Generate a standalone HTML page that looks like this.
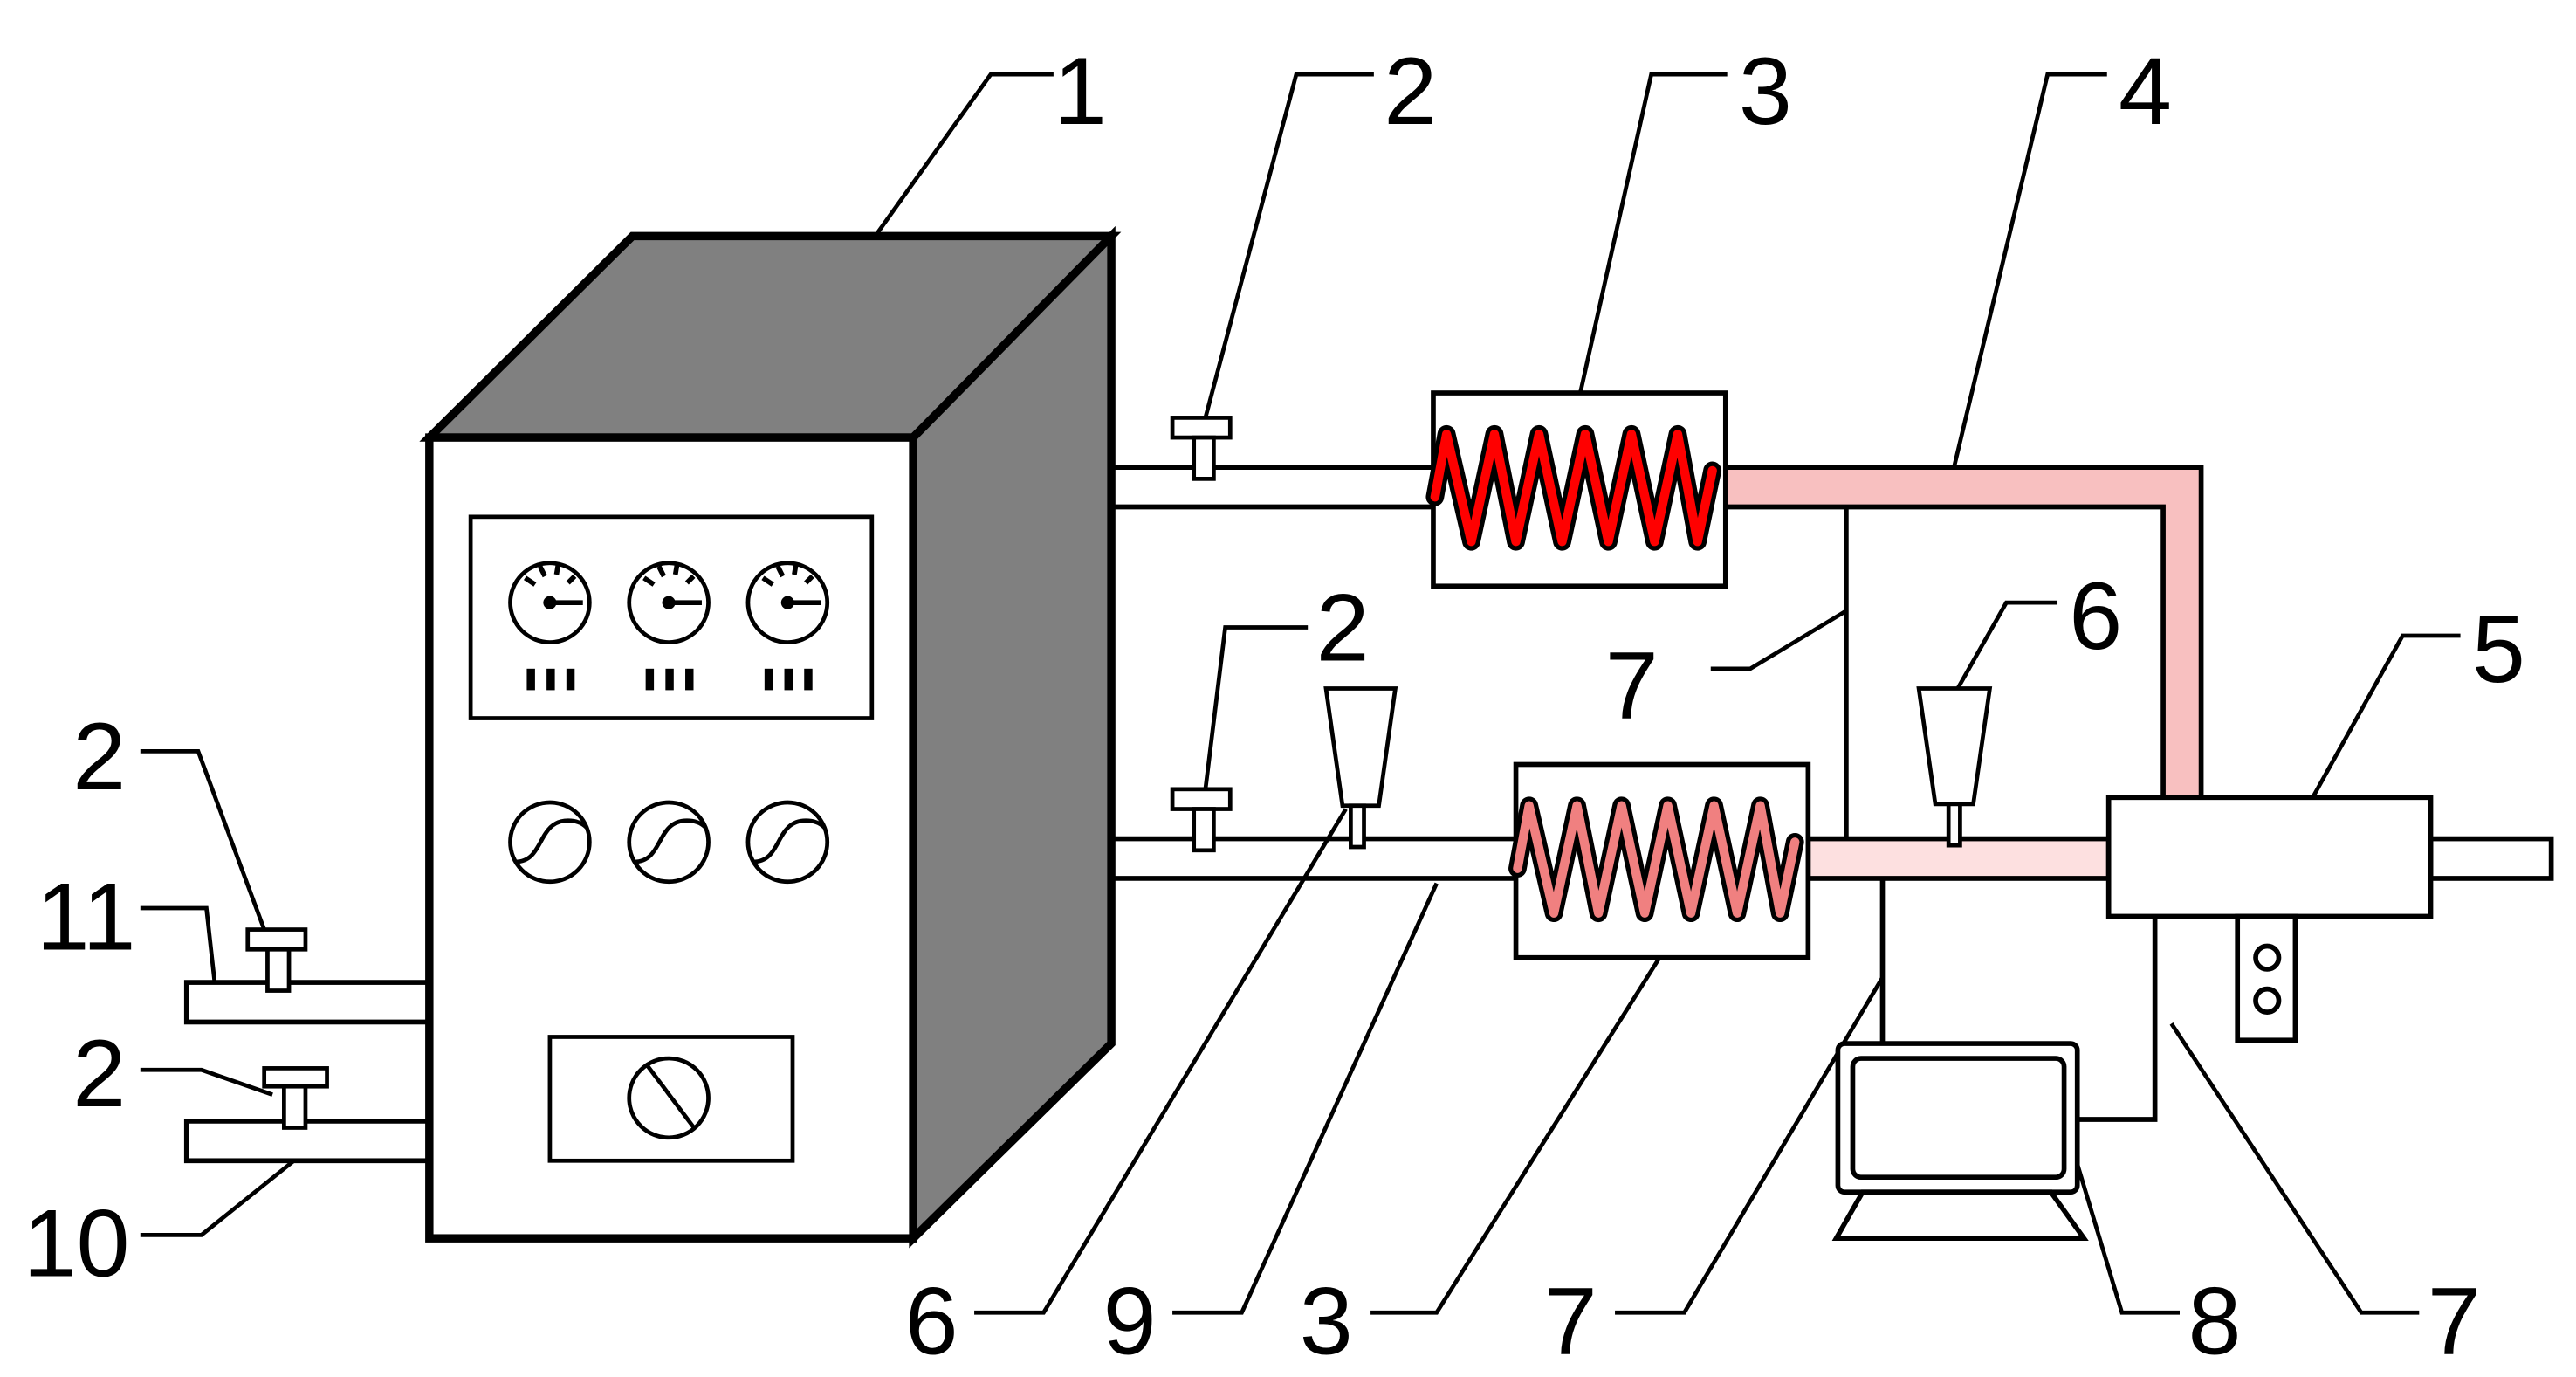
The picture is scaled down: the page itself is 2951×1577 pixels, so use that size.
<!DOCTYPE html>
<html><head><style>html,body{margin:0;padding:0;background:#fff}svg{display:block}</style></head>
<body>
<svg width="2951" height="1577" viewBox="0 0 1560 834" preserveAspectRatio="none" xmlns="http://www.w3.org/2000/svg">
<rect width="1560" height="834" fill="#fff"/>
<g font-family="Liberation Sans, sans-serif" font-size="58" fill="#000">
<text x="638" y="75">1</text>
<text x="838" y="75">2</text>
<text x="1053" y="75">3</text>
<text x="1283" y="75">4</text>
<text x="1497" y="413">5</text>
<text x="1253" y="393">6</text>
<text x="972" y="435">7</text>
<text x="797" y="400">2</text>
<text x="44" y="478">2</text>
<text x="22" y="575">11</text>
<text x="44" y="670">2</text>
<text x="14" y="773">10</text>
<text x="548" y="820">6</text>
<text x="668" y="820">9</text>
<text x="787" y="820">3</text>
<text x="935" y="820">7</text>
<text x="1325" y="820">8</text>
<text x="1470" y="820">7</text>
</g>
<g stroke="#000" stroke-width="2.5" fill="none">
<polyline points="638,45 600,45 530,143"/>
<polyline points="832,45 785,45 730,253"/>
<polyline points="1046,45 1000,45 957,238"/>
<polyline points="1276,45 1240,45 1180,297"/>
<polyline points="1490,385 1455,385 1380,520"/>
<polyline points="1246,365 1215,365 1185,418"/>
<polyline points="1036,405 1060,405 1118,370"/>
<polyline points="792,380 742,380 730,478"/>
<polyline points="85,455 120,455 160,563"/>
<polyline points="85,550 125,550 130,595"/>
<polyline points="85,648 122,648 165,663"/>
<polyline points="85,748 122,748 178,703"/>
<polyline points="590,795 632,795 815,490"/>
<polyline points="710,795 752,795 870,535"/>
<polyline points="830,795 870,795 1005,580"/>
<polyline points="978,795 1020,795 1140,592"/>
<polyline points="1320,795 1285,795 1258,705"/>
<polyline points="1465,795 1430,795 1315,620"/>
</g>
<g stroke="#000" stroke-width="3" fill="#fff">
<rect x="113" y="595" width="147" height="24"/>
<rect x="113" y="679" width="147" height="24"/>
<line x1="673" y1="283" x2="870" y2="283"/><line x1="673" y1="307" x2="870" y2="307"/>
<line x1="673" y1="508" x2="920" y2="508"/><line x1="673" y1="532" x2="920" y2="532"/>
<path d="M1045,283 H1333 V483 H1310 V307 H1045 Z" fill="#f8c0c0"/>
<rect x="1095" y="508" width="182" height="24" fill="#fde0e0"/>
<rect x="1472" y="508" width="73" height="24"/>
<line x1="1118" y1="307" x2="1118" y2="508"/>
<line x1="1140" y1="532" x2="1140" y2="632"/>
<polyline points="1305,555 1305,678 1258,678" fill="none"/>
<rect x="1277" y="483" width="195" height="72"/>
<rect x="1355" y="555" width="35" height="75"/>
<circle cx="1373" cy="580" r="7"/><circle cx="1373" cy="606" r="7"/>
<rect x="1113" y="632" width="145" height="90" rx="4"/>
<rect x="1122" y="641" width="128" height="72" rx="5"/>
<polygon points="1128,722 1242,722 1262,750 1112,750"/>
</g>
<g stroke="#000" stroke-width="2.5" fill="#fff">
<rect x="150" y="563" width="35" height="12"/><rect x="162" y="575" width="13" height="25"/>
<rect x="160" y="647" width="38" height="11"/><rect x="172" y="658" width="13" height="25"/>
<rect x="710" y="253" width="35" height="12"/><rect x="723" y="265" width="12" height="25"/>
<rect x="710" y="478" width="35" height="12"/><rect x="723" y="490" width="12" height="25"/>
<polygon points="803,417 845,417 835,488 813,488"/><rect x="818" y="488" width="8" height="25"/>
<polygon points="1162,417 1205,417 1195,487 1172,487"/><rect x="1180" y="487" width="7" height="25"/>
</g>
<rect x="868" y="238" width="177" height="117" fill="#fff" stroke="#000" stroke-width="3"/>
<rect x="918" y="463" width="177" height="117" fill="#fff" stroke="#000" stroke-width="3"/>
<g fill="none" stroke-linejoin="round" stroke-linecap="round">
<polyline stroke="#000" stroke-width="11" points="869,301 876,263 891,328 905,263 918,328 932,263 946,328 960,263 974,328 988,263 1002,328 1016,263 1028,328 1037,285"/>
<polyline stroke="#f00" stroke-width="5.5" points="869,301 876,263 891,328 905,263 918,328 932,263 946,328 960,263 974,328 988,263 1002,328 1016,263 1028,328 1037,285"/>
<g transform="translate(50,225)">
<polyline stroke="#000" stroke-width="11" points="869,301 876,263 891,328 905,263 918,328 932,263 946,328 960,263 974,328 988,263 1002,328 1016,263 1028,328 1037,285"/>
<polyline stroke="#f08080" stroke-width="5.5" points="869,301 876,263 891,328 905,263 918,328 932,263 946,328 960,263 974,328 988,263 1002,328 1016,263 1028,328 1037,285"/>
</g>
</g>
<g stroke="#000" stroke-width="5" stroke-linejoin="miter">
<polygon points="260,265 383,143 673,143 553,265" fill="#808080"/>
<polygon points="553,265 673,143 673,632 553,750" fill="#808080"/>
<rect x="260" y="265" width="293" height="485" fill="#fff"/>
</g>
<g stroke="#000" stroke-width="2.5" fill="#fff">
<rect x="285" y="313" width="243" height="122"/>
<rect x="333" y="628" width="147" height="75"/>
<circle cx="405" cy="665" r="24"/><line x1="391" y1="644" x2="421" y2="684"/>
</g>
<g stroke="#000" stroke-width="2.5" fill="#fff">
<circle cx="333" cy="365" r="24"/><circle cx="405" cy="365" r="24"/><circle cx="477" cy="365" r="24"/>
<circle cx="333" cy="510" r="24"/><circle cx="405" cy="510" r="24"/><circle cx="477" cy="510" r="24"/>
<path d="M312,522 C330,522 325,497 344,497 C350,497 353,499 355,501" fill="none"/>
<path d="M384,522 C402,522 397,497 416,497 C422,497 425,499 427,501" fill="none"/>
<path d="M456,522 C474,522 469,497 488,497 C494,497 497,499 499,501" fill="none"/>
</g>
<g stroke="#000" stroke-width="3">
<line x1="333" y1="365" x2="353" y2="365"/><line x1="405" y1="365" x2="425" y2="365"/><line x1="477" y1="365" x2="497" y2="365"/>
<line x1="318" y1="350" x2="324" y2="354"/><line x1="327" y1="343" x2="330" y2="349"/><line x1="338" y1="342" x2="337" y2="348"/><line x1="348" y1="349" x2="344" y2="353"/>
<line x1="390" y1="350" x2="396" y2="354"/><line x1="399" y1="343" x2="402" y2="349"/><line x1="410" y1="342" x2="409" y2="348"/><line x1="420" y1="349" x2="416" y2="353"/>
<line x1="462" y1="350" x2="468" y2="354"/><line x1="471" y1="343" x2="474" y2="349"/><line x1="482" y1="342" x2="481" y2="348"/><line x1="492" y1="349" x2="488" y2="353"/>
</g>
<g fill="#000">
<circle cx="333" cy="365" r="4"/><circle cx="405" cy="365" r="4"/><circle cx="477" cy="365" r="4"/>
<rect x="319" y="405" width="5" height="13"/><rect x="331" y="405" width="5" height="13"/><rect x="343" y="405" width="5" height="13"/>
<rect x="391" y="405" width="5" height="13"/><rect x="403" y="405" width="5" height="13"/><rect x="415" y="405" width="5" height="13"/>
<rect x="463" y="405" width="5" height="13"/><rect x="475" y="405" width="5" height="13"/><rect x="487" y="405" width="5" height="13"/>
</g>
</svg>
</body></html>
